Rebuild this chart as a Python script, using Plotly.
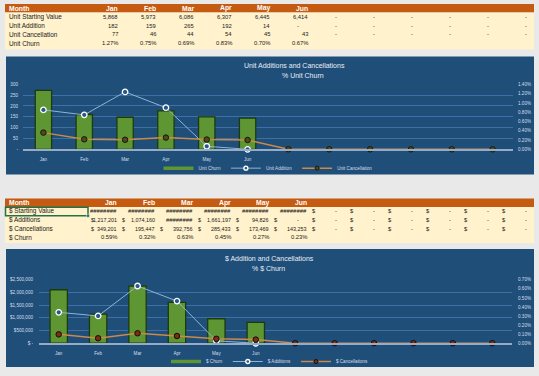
import plotly.graph_objects as go

W, H = 539, 376

# ---------------- data ----------------
months = ["Jan", "Feb", "Mar", "Apr", "May", "Jun", "Jul", "Aug", "Sep", "Oct", "Nov", "Dec"]
month_tick_labels = ["Jan", "Feb", "Mar", "Apr", "May", "Jun", "", "", "", "", "", ""]
charted_months = 6

unit_starting_value = [5868, 5973, 6086, 6307, 6445, 6414, 0, 0, 0, 0, 0, 0]
unit_addition = [182, 159, 265, 192, 14, 0, 0, 0, 0, 0, 0, 0]
unit_cancellation = [77, 46, 44, 54, 45, 43, 0, 0, 0, 0, 0, 0]
unit_churn_pct = [1.27, 0.75, 0.69, 0.83, 0.70, 0.67]

dollar_starting_overflow = [True, True, True, True, True, True]   # shown as ########
dollar_additions = [1217201, 1074160, 2254000, 1661197, 94826, 0, 0, 0, 0, 0, 0, 0]
dollar_additions_overflow = [False, False, True, False, False, False]
dollar_cancellations = [349201, 195447, 392756, 285433, 173469, 143253, 0, 0, 0, 0, 0, 0]
dollar_churn_pct = [0.59, 0.32, 0.63, 0.45, 0.27, 0.23]

unit_left_ticks = [0, 50, 100, 150, 200, 250, 300]
unit_left_ticktext = ["-", "50", "100", "150", "200", "250", "300"]
unit_right_ticks = [0, 0.002, 0.004, 0.006, 0.008, 0.010, 0.012, 0.014]
dollar_left_ticks = [0, 500000, 1000000, 1500000, 2000000, 2500000]
dollar_left_ticktext = ["$ -", "$500,000", "$1,000,000", "$1,500,000", "$2,000,000", "$2,500,000"]
dollar_right_ticks = [0, 0.001, 0.002, 0.003, 0.004, 0.005, 0.006, 0.007]

# ---------------- styles ----------------
TFONT = "Liberation Sans, Arial, sans-serif"
CFONT = "Liberation Sans, Arial, sans-serif"
ORANGE = "#C55A11"
CREAM = "#FFF2CC"
PANEL = "#1F4E79"
GRID = "#3D70A6"
AXIS = "#97ABC6"
TICK = "#D6DEEA"
BAR = "#5E9634"
BAR_EDGE = "#1C3A0D"
ADD_LINE = "#8FB3DA"
CAN_LINE = "#C98A4B"
T1 = 6.4   # table label size
TV = 5.8   # table value size

shapes = []
annotations = []


def rect(x0, y0, x1, y1, fill, line=None, lw=0):
    shapes.append(dict(type="rect", xref="paper", yref="paper",
                       x0=x0 / W, x1=x1 / W, y0=1 - y1 / H, y1=1 - y0 / H,
                       fillcolor=fill, line=dict(color=line or fill, width=lw),
                       layer="below"))


def txt(x, y, s, anchor="left", size=TV, color="#1b1b1b", bold=False, family=TFONT):
    if bold:
        s = "<b>" + s + "</b>"
    annotations.append(dict(x=x / W, y=1 - y / H, xref="paper", yref="paper", text=s,
                            showarrow=False, xanchor=anchor, yanchor="middle",
                            borderpad=0,
                            font=dict(size=size, color=color, family=family)))


# ---------------- table 1 ----------------
rect(5, 4, 534, 12.7, ORANGE)
rect(5, 12.7, 534, 50, CREAM)
h1 = 8.4
rows1 = [17.3, 26.0, 34.7, 43.4]
t1_right = [120 + 38 * i for i in range(12)]
txt(8, h1, "Month", bold=True, color="white", size=6.8)
row_labels1 = ["Unit Starting Value", "Unit Addition", "Unit Cancellation", "Unit Churn"]
for r, lab in enumerate(row_labels1):
    txt(8, rows1[r], lab, size=T1)
series1 = [unit_starting_value, unit_addition, unit_cancellation]
for i in range(12):
    if i < charted_months:
        txt(t1_right[i] - 1, h1, months[i], anchor="right", bold=True, color="white", size=6.8)
    for r, s in enumerate(series1):
        v = s[i]
        if v == 0:
            txt(t1_right[i] - 12, rows1[r], "-", anchor="center")
        else:
            txt(t1_right[i] - 1, rows1[r], f"{v:,}", anchor="right")
    if i < len(unit_churn_pct):
        txt(t1_right[i] - 1, rows1[3], f"{unit_churn_pct[i]:.2f}%", anchor="right")

# ---------------- chart 1 panel ----------------
rect(6, 57, 534, 176, PANEL)
txt(294, 66, "Unit Additions and Cancellations", anchor="center", size=7, color="#E8EDF5", family=CFONT)
txt(303, 76, "% Unit Churn", anchor="center", size=7, color="#E8EDF5", family=CFONT)

# ---------------- table 2 ----------------
rect(5, 200, 534, 208.6, ORANGE)
rect(5, 208.6, 534, 245, CREAM)
h2 = 204.3
rows2 = [213.0, 221.7, 230.4, 239.1]
t2_right = [119 + 38 * i for i in range(12)]
t2_left = [88] + t2_right[:-1]
txt(8, h2, "Month", bold=True, color="white", size=6.8)
row_labels2 = ["$ Starting Value", "$ Additions", "$ Cancellations", "$ Churn"]
for r, lab in enumerate(row_labels2):
    txt(8, rows2[r], lab, size=T1)
for i in range(12):
    if i < charted_months:
        txt(t2_right[i] - 1, h2, months[i], anchor="right", bold=True, color="white", size=6.8)
    # starting value
    if i < len(dollar_starting_overflow) and dollar_starting_overflow[i]:
        txt(t2_right[i] - 1, rows2[0], "########", anchor="right", size=5.9, color="#111")
    else:
        txt(t2_left[i] + 2, rows2[0], "$")
        txt(t2_right[i] - 11, rows2[0], "-", anchor="center")
    for r, (s, ovf) in enumerate([(dollar_additions, dollar_additions_overflow),
                                  (dollar_cancellations, None)], start=1):
        v = s[i]
        if ovf is not None and i < len(ovf) and ovf[i]:
            txt(t2_right[i] - 1, rows2[r], "########", anchor="right", size=5.9, color="#111")
        elif v == 0:
            txt(t2_left[i] + 2, rows2[r], "$")
            txt(t2_right[i] - 11, rows2[r], "-", anchor="center")
        else:
            txt(t2_left[i] + 1.5, rows2[r], "$", size=5.4)
            txt(t2_right[i] - 1, rows2[r], f"{v:,}", anchor="right", size=5.4)
    if i < len(dollar_churn_pct):
        txt(t2_right[i] - 1, rows2[3], f"{dollar_churn_pct[i]:.2f}%", anchor="right")

# selected cell border
shapes.append(dict(type="rect", xref="paper", yref="paper", x0=5.5 / W, x1=88 / W,
                   y0=1 - 217.6 / H, y1=1 - 208.8 / H, line=dict(color="#217346", width=1.5),
                   fillcolor="rgba(0,0,0,0)", layer="above"))
shapes.append(dict(type="rect", xref="paper", yref="paper", x0=86.5 / W, x1=89.5 / W,
                   y0=1 - 219 / H, y1=1 - 216 / H, line=dict(color="white", width=0.5),
                   fillcolor="#217346", layer="above"))

# ---------------- chart 2 panel ----------------
rect(6, 251, 534, 370, PANEL)
txt(269.5, 261, "$ Addition and Cancellations", anchor="center", size=7, color="#E8EDF5", family=CFONT)
txt(268, 271, "% $ Churn", anchor="center", size=7, color="#E8EDF5", family=CFONT)

# ---------------- traces ----------------
fig = go.Figure()

add_marker = dict(symbol="circle", size=5.5, color="#2A5886", line=dict(color="white", width=1.3))
can_marker1 = dict(symbol="circle", size=5.5, color="#4F4B1C", line=dict(color="#1A1808", width=1))
can_marker2 = dict(symbol="circle", size=5.5, color="#7A2E12", line=dict(color="#1A0A04", width=1))


def chart(xa, ya_pct, ya_val, churn, addition, cancellation, names, can_marker, legend, bar_w):
    fig.add_trace(go.Bar(x=months[:len(churn)], y=[p / 100 for p in churn],
                         name=names[0], xaxis=xa, yaxis=ya_pct, width=bar_w, showlegend=False,
                         marker=dict(color=BAR, line=dict(color=BAR_EDGE, width=1.3))))
    fig.add_trace(go.Scatter(x=months[:charted_months], y=addition[:charted_months],
                             name=names[1], xaxis=xa, yaxis=ya_val, mode="lines+markers",
                             line=dict(color=ADD_LINE, width=1), marker=add_marker,
                             cliponaxis=False, showlegend=False))
    fig.add_trace(go.Scatter(x=months, y=cancellation,
                             name=names[2], xaxis=xa, yaxis=ya_val, mode="lines+markers",
                             line=dict(color=CAN_LINE, width=1.5), marker=can_marker,
                             cliponaxis=False, showlegend=False))
    # legend entries (compact Excel-like symbols)
    fig.add_trace(go.Scatter(x=[None], y=[None], xaxis=xa, yaxis=ya_val, mode="lines",
                             name=names[0], line=dict(color=BAR, width=3.5), legend=legend))
    fig.add_trace(go.Scatter(x=[None], y=[None], xaxis=xa, yaxis=ya_val, mode="lines+markers",
                             name=names[1], line=dict(color=ADD_LINE, width=1),
                             marker=dict(add_marker, size=4), legend=legend))
    fig.add_trace(go.Scatter(x=[None], y=[None], xaxis=xa, yaxis=ya_val, mode="lines+markers",
                             name=names[2], line=dict(color=CAN_LINE, width=1.5),
                             marker=dict(can_marker, size=4), legend=legend))


chart("x", "y", "y2", unit_churn_pct, unit_addition, unit_cancellation,
      ["Unit Churn", "Unit Addition", "Unit Cancellation"], can_marker1, "legend", 0.4)
chart("x2", "y3", "y4", dollar_churn_pct, dollar_additions, dollar_cancellations,
      ["$ Churn", "$ Additions", "$ Cancellations"], can_marker2, "legend2", 0.44)

tickfont = dict(size=4.6, color=TICK, family=CFONT)


def xax(domain, anchor):
    return dict(domain=domain, anchor=anchor, type="category", categoryorder="array",
                categoryarray=months, range=[-0.5, 11.5], tickvals=months,
                ticktext=month_tick_labels, tickfont=tickfont, showgrid=False,
                zeroline=False, showline=True, linecolor=AXIS, linewidth=2,
                layer="above traces", ticks="", ticklen=0, ticklabelstandoff=4, fixedrange=True)


def yax(**kw):
    base = dict(zeroline=False, tickfont=tickfont, ticks="", ticklen=0, fixedrange=True,
                automargin=False)
    base.update(kw)
    return base


c1_dom = [1 - 150.5 / H, 1 - 85 / H]
c2_dom = [1 - 346 / H, 1 - 282 / H]

leg = dict(orientation="h", xanchor="center", yanchor="middle",
           bgcolor="rgba(0,0,0,0)", font=dict(size=4.6, color=TICK, family=CFONT),
           itemwidth=30, tracegroupgap=0, itemclick=False, itemdoubleclick=False)

fig.update_layout(
    width=W, height=H, autosize=False,
    margin=dict(l=0, r=0, t=0, b=0),
    paper_bgcolor="#E9E9E9", plot_bgcolor="rgba(0,0,0,0)",
    showlegend=True,
    xaxis=xax([23 / W, 513 / W], "y"),
    yaxis=yax(domain=c1_dom, anchor="x", side="right", range=[0, 0.014],
              tickvals=unit_right_ticks, tickformat=".2%", showgrid=False,
              ticklabelstandoff=4),
    yaxis2=yax(overlaying="y", anchor="x", side="left", range=[0, 300],
               tickvals=unit_left_ticks, ticktext=unit_left_ticktext, showgrid=True,
               gridcolor=GRID, gridwidth=1, ticklabelstandoff=4),
    xaxis2=xax([39 / W, 512 / W], "y3"),
    yaxis3=yax(domain=c2_dom, anchor="x2", side="right", range=[0, 0.007],
               tickvals=dollar_right_ticks, tickformat=".2%", showgrid=False,
               ticklabelstandoff=5),
    yaxis4=yax(overlaying="y3", anchor="x2", side="left", range=[0, 2500000],
               tickvals=dollar_left_ticks, ticktext=dollar_left_ticktext, showgrid=True,
               gridcolor=GRID, gridwidth=1, ticklabelstandoff=5),
    legend=dict(leg, x=268 / W, y=1 - 169.5 / H),
    legend2=dict(leg, x=270 / W, y=1 - 364.5 / H),
    shapes=shapes,
    annotations=annotations,
)

fig.write_html("out.html", config={"displayModeBar": False, "staticPlot": True},
               post_script="document.body.style.margin='0';"
                           "document.documentElement.style.overflow='hidden';")
